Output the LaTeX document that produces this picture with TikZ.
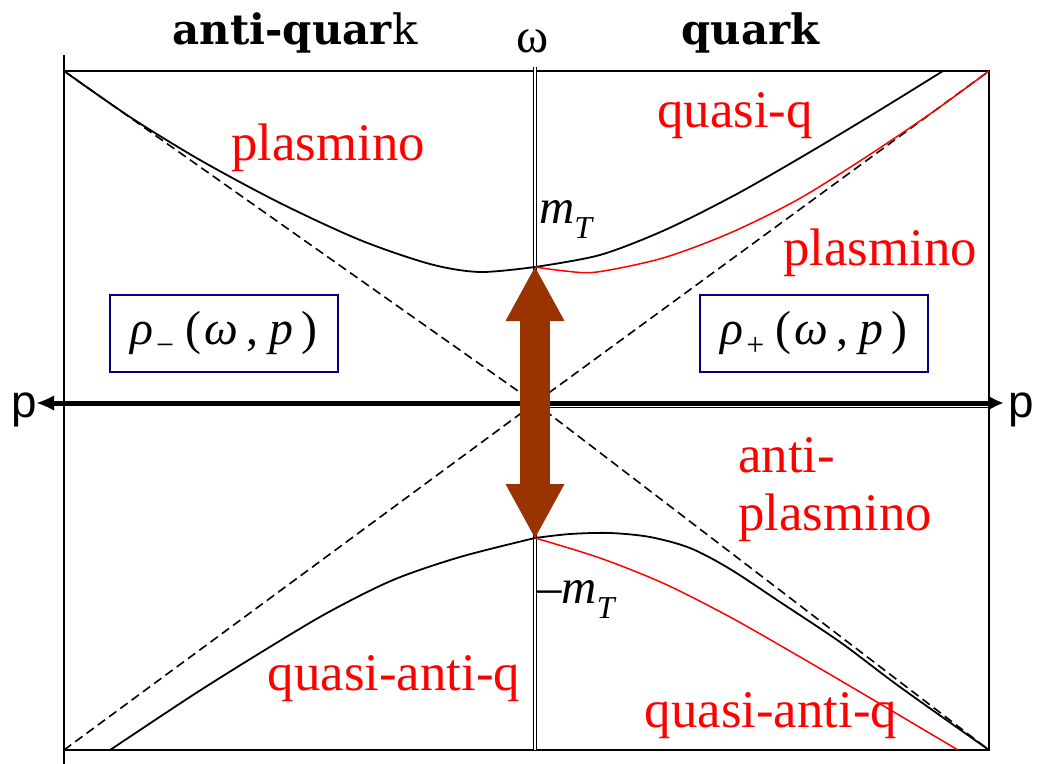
\documentclass[tikz,border=0pt]{standalone}
\usepackage{fontspec}
\setmainfont{Liberation Serif}
\setsansfont{Liberation Sans}
\newfontfamily\headfont{DejaVu Serif}
\usetikzlibrary{arrows.meta,positioning}
\definecolor{flipbrown}{HTML}{993300}
\definecolor{boxnavy}{HTML}{000080}
\newcommand{\rhofn}[1]{\textit{ρ}\kern3bp\raisebox{-11bp}{\fontsize{32}{32}\selectfont #1}\kern11bp(\kern3bp\textit{ω}\kern9bp,\kern11bp\textit{p}\kern8bp)}
\newcommand{\mtlab}{\textit{m}\raisebox{-15bp}{\fontsize{32}{32}\selectfont\textit{T}}}

\begin{document}
\begin{tikzpicture}[x=1bp, y=-1bp,
  frame/.style={line width=1.5bp},
  cone/.style={dash pattern=on 9bp off 5bp, line width=1.6bp},
  disp/.style={line width=1.8bp},
  rdisp/.style={red, line width=1.5bp},
  rlab/.style={red, inner sep=0pt, font=\fontsize{53}{58}\selectfont},
  head/.style={inner sep=0pt, font=\headfont\fontsize{42}{46}\selectfont},
  mlab/.style={inner sep=0pt, font=\fontsize{49}{52}\selectfont},
  plab/.style={inner sep=0pt, font=\sffamily\fontsize{46}{50}\selectfont},
  rhobox/.style={draw=boxnavy, line width=2bp, minimum width=228bp,
                 minimum height=77bp, inner sep=0pt, font=\fontsize{48}{52}\selectfont},
  paxis/.style={line width=5bp, {Latex[length=17bp,width=15bp,line width=0bp]}-{Latex[length=15bp,width=15bp,line width=0bp]}},
  flip/.style={flipbrown, line width=30bp,
               {Triangle[length=54bp,width=59bp,line width=0bp]}-{Triangle[length=54bp,width=59bp,line width=0bp]}},
]
\useasboundingbox (0,0) rectangle (1038,764);
\coordinate (o) at (535,403);
\coordinate (tl) at (64,71);
\coordinate (tr) at (989,71);
\coordinate (bl) at (64,750);
\coordinate (br) at (989,750);
\coordinate (mTup) at (535,267);
\coordinate (mTdn) at (535,538);
\coordinate (pL) at (37,403);
\coordinate (pR) at (1003,403);

\draw[frame] (64,55) -- (64,764);
\draw[frame] (tl) -- (tr) -- (br) -- (bl);
\draw[double, double distance=2.5bp, line width=1.2bp] (535,67) -- (535,750);
\draw[line width=1.2bp] (o) ++(0,4.5) -- (989,407.5);

\draw[cone] (tl) -- (o) -- (br);
\draw[cone] (bl) -- (o) -- (tr);

\draw[disp] plot[smooth] coordinates {(tl) (130,117) (200,160) (280,203) (360,240)
  (430,264) (480,272) (mTup)};
\draw[disp] plot[smooth] coordinates {(mTup) (600,255) (665,230) (735,195) (805,155)
  (875,113) (943,71)};
\draw[rdisp] plot[smooth] coordinates {(mTup) (565,271) (597,272) (663,258) (730,233)
  (797,200) (863,159) (930,114) (tr)};
\draw[disp] plot[smooth] coordinates {(mTdn) (460,557) (393,580) (327,613) (260,653)
  (193,695) (110,750)};
\draw[disp] plot[smooth] coordinates {(mTdn) (570,534) (610,533) (650,537) (690,548)
  (730,569) (780,602) (840,642) (900,687) (br)};
\draw[rdisp] plot[smooth] coordinates {(mTdn) (600,558) (665,584) (730,617) (795,654)
  (860,692) (958,750)};

\draw[paxis] (pL) -- (pR);
\draw[flip] (mTup) -- (mTdn);

\node[plab, anchor=base east] (pleft) at (37,417) {p};
\node[plab, anchor=base west] (pright) at (1008,417) {p};

\node[head, anchor=base] (aq) at (295,45) {\textbf{anti-quar}k};
\node[head, anchor=base] (q) at (751,45) {\textbf{quark}};
\node[mlab, anchor=base] (om) at (533,53) {ω};

\node[mlab, anchor=base west] (mtop) at (539,223) {\mtlab};
\node[mlab, anchor=base west] (mbot) at (537,603) {–\mtlab};

\node[rhobox] (rhom) at (224,333.5) {\rhofn{−}};
\node[rhobox] (rhop) at (814,333.5) {\rhofn{+}};

\node[rlab, anchor=base] (plL) at (328,160) {plasmino};
\node[rlab, anchor=base] (qq) at (735,127) {quasi-q};
\node[rlab, anchor=base] (plR) at (880,265) {plasmino};
\node[rlab, anchor=base west] (apl1) at (738,472) {anti-};
\node[rlab, anchor=base west] (apl2) at (738,530) {plasmino};
\node[rlab, anchor=base] (qaqL) at (394,690) {quasi-anti-q};
\node[rlab, anchor=base] (qaqR) at (771,727) {quasi-anti-q};
\end{tikzpicture}
\end{document}
